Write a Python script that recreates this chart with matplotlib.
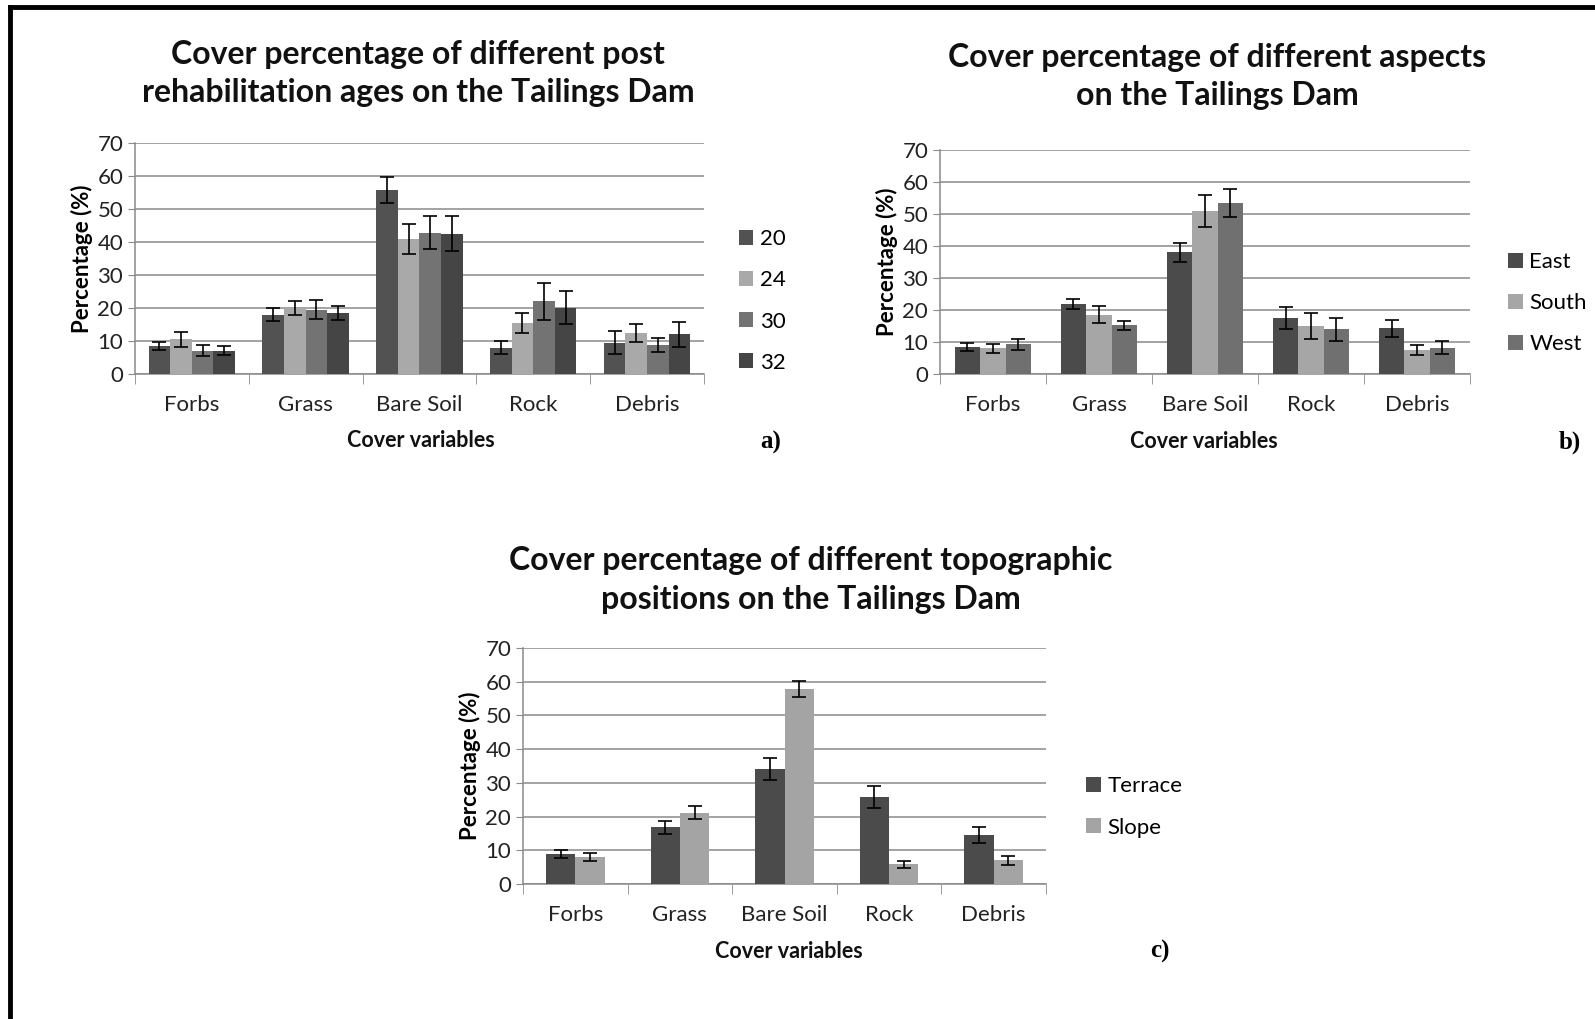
import matplotlib.pyplot as plt
import numpy as np

plt.rcParams['font.family'] = ['Lato', 'DejaVu Sans']

cats = ["Forbs", "Grass", "Bare Soil", "Rock", "Debris"]

# a) post rehabilitation ages
ages = ["20", "24", "30", "32"]
ages_vals = [[8.5, 18.0, 55.8, 8.0, 9.5],
             [10.5, 20.0, 41.0, 15.5, 12.3],
             [7.0, 19.5, 42.8, 22.0, 8.8],
             [7.0, 18.5, 42.5, 20.0, 12.0]]
ages_err = [[1.3, 2.0, 4.0, 2.0, 3.5],
            [2.3, 2.0, 4.5, 3.0, 2.7],
            [1.7, 2.8, 5.0, 5.5, 2.0],
            [1.4, 2.2, 5.3, 5.0, 3.8]]

# b) aspects
aspects = ["East", "South", "West"]
asp_vals = [[8.5, 21.8, 38.0, 17.5, 14.3],
            [8.0, 18.5, 51.0, 15.0, 7.5],
            [9.3, 15.2, 53.5, 14.0, 8.2]]
asp_err = [[1.3, 1.6, 3.0, 3.3, 2.7],
           [1.5, 2.7, 5.0, 4.0, 1.6],
           [1.7, 1.4, 4.3, 3.6, 2.0]]

# c) topographic positions
topo = ["Terrace", "Slope"]
topo_vals = [[9.0, 16.8, 34.2, 25.8, 14.5],
             [8.0, 21.2, 57.8, 5.8, 7.0]]
topo_err = [[1.2, 2.0, 3.3, 3.3, 2.3],
            [1.3, 2.0, 2.3, 1.0, 1.3]]

fig = plt.figure(figsize=(15.95, 10.19), dpi=100)


def panel(rect, names, vals, errs, colors, group, title, tpos, lpos, letter, xlab_pos, let_pos):
    ax = fig.add_axes(rect)
    n = len(names)
    w = group / n
    x = np.arange(len(cats))
    for i in range(n):
        off = (i - (n - 1) / 2) * w
        ax.bar(x + off, vals[i], w, color=colors[i], label=names[i], zorder=3,
               yerr=errs[i], error_kw=dict(ecolor='black', elinewidth=1.2, capsize=5, capthick=1.2))
    ax.set_xlim(-0.5, len(cats) - 0.5)
    ax.set_ylim(0, 70)
    ax.set_yticks(range(0, 71, 10))
    ax.yaxis.grid(True, color='#8a8a8a', linewidth=1.1, zorder=0)
    ax.set_axisbelow(True)
    for s in ['top', 'right']:
        ax.spines[s].set_visible(False)
    for s in ['left', 'bottom']:
        ax.spines[s].set_color('#8a8a8a')
        ax.spines[s].set_linewidth(1.1)
    ax.set_xticks(x)
    ax.set_xticklabels(cats, fontsize=16, color='#222222')
    ax.tick_params(axis='x', length=0, pad=15)
    ax.set_xticks(np.arange(-0.5, len(cats), 1), minor=True)
    ax.tick_params(axis='x', which='minor', length=7, color='#8a8a8a')
    ax.tick_params(axis='y', length=5, color='#8a8a8a', labelsize=16, labelcolor='#222222')
    ax.set_ylabel("Percentage (%)", fontsize=16, fontweight='bold', labelpad=3)
    fig.text(tpos[0], tpos[1], title, ha='center', va='center', fontsize=23,
             fontweight='bold', linespacing=1.4, color='#111111')
    fig.text(xlab_pos[0], xlab_pos[1], "Cover variables", ha='center', va='center',
             fontsize=15.5, fontweight='bold', color='#111111')
    fig.text(let_pos[0], let_pos[1], letter, ha='center', va='center', fontsize=18,
             fontweight='bold', family='Liberation Serif')
    h, l = ax.get_legend_handles_labels()
    fig.legend(h, l, loc='center left', bbox_to_anchor=lpos, frameon=False, fontsize=16,
               handlelength=0.65, handleheight=0.65, handletextpad=0.3, labelspacing=0.95,
               borderpad=0, borderaxespad=0)
    return ax


panel([0.0846, 0.633, 0.3567, 0.2267], ages, ages_vals, ages_err,
      ['#525252', '#a9a9a9', '#737373', '#454545'], 0.76,
      "Cover percentage of different post\nrehabilitation ages on the Tailings Dam",
      (0.262, 0.928), (0.4633, 0.7046), "a)", (0.264, 0.568), (0.483, 0.566))

panel([0.5893, 0.633, 0.3323, 0.2198], aspects, asp_vals, asp_err,
      ['#4b4b4b', '#a6a6a6', '#707070'], 0.72,
      "Cover percentage of different aspects\non the Tailings Dam",
      (0.763, 0.925), (0.9455, 0.7026), "b)", (0.755, 0.567), (0.984, 0.566))

panel([0.3279, 0.1325, 0.3279, 0.2316], topo, topo_vals, topo_err,
      ['#4b4b4b', '#a4a4a4'], 0.56,
      "Cover percentage of different topographic\npositions on the Tailings Dam",
      (0.5085, 0.431), (0.681, 0.208), "c)", (0.4947, 0.0667), (0.727, 0.0667))

# frame lines on top and left like the scanned figure
fig.add_artist(plt.Line2D([0.006, 1.0], [0.993, 0.993], color='black', linewidth=3.5))
fig.add_artist(plt.Line2D([0.006, 0.006], [0.0, 0.993], color='black', linewidth=3.5))

fig.savefig("out.png", dpi=100)
